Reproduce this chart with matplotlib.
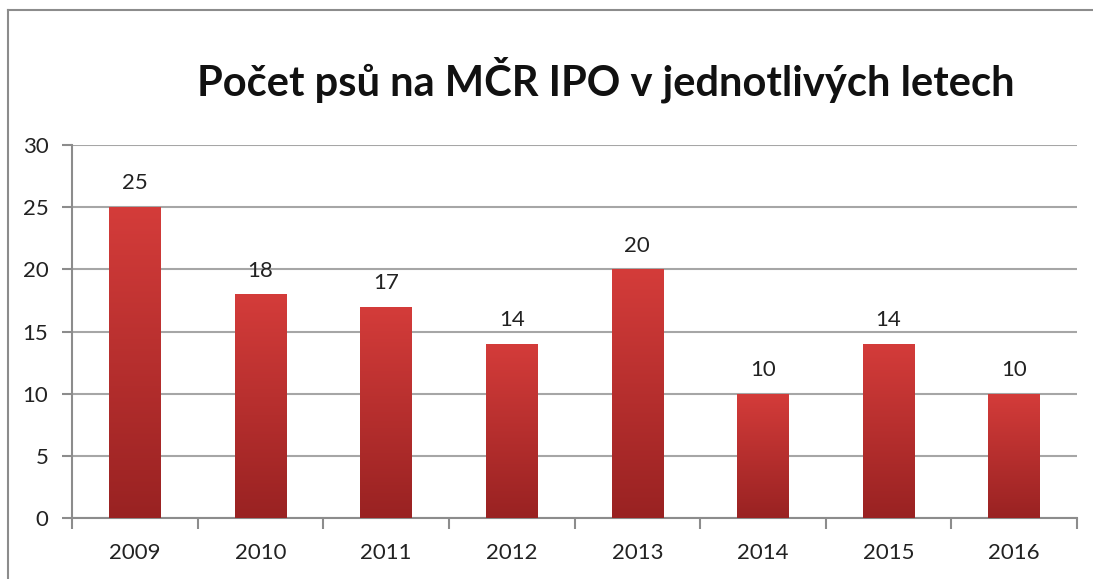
import matplotlib
matplotlib.use("Agg")
import matplotlib.pyplot as plt
import numpy as np
from matplotlib.colors import LinearSegmentedColormap
from matplotlib.lines import Line2D

years = ["2009", "2010", "2011", "2012", "2013", "2014", "2015", "2016"]
counts = [25, 18, 17, 14, 20, 10, 14, 10]
yticks = [0, 5, 10, 15, 20, 25, 30]
title = "Počet psů na MČR IPO v jednotlivých letech"

plt.rcParams['font.family'] = ['Lato', 'DejaVu Sans']

fig = plt.figure(figsize=(10.93, 5.79), dpi=100)
# outer chart frame (left and top edges visible)
fx, fy = 8/1093, 1 - 10/579
fig.add_artist(Line2D([fx, fx], [0, fy], transform=fig.transFigure, color='#8c8c8c', linewidth=1.5))
fig.add_artist(Line2D([fx, 1], [fy, fy], transform=fig.transFigure, color='#8c8c8c', linewidth=1.5))

ax = fig.add_axes([72/1093, 1 - 518/579, (1077-72)/1093, (518-145)/579])

x = np.arange(len(years))
bars = ax.bar(x, counts, width=0.41, color='#c03030', zorder=2)
cmap = LinearSegmentedColormap.from_list('g', ['#992222', '#d43c3a'])
grad = np.linspace(0, 1, 256).reshape(-1, 1)
for b in bars:
    im = ax.imshow(grad, cmap=cmap, origin='lower', aspect='auto',
                   extent=[b.get_x(), b.get_x() + b.get_width(), 0, b.get_height()], zorder=3)
    im.set_clip_path(b)
for xi, v in zip(x, counts):
    ax.text(xi, v + 1.1, str(v), ha='center', va='bottom', fontsize=16, color='#222222')

ax.set_xlim(-0.5, len(years) - 0.5)
ax.set_ylim(0, 30)
ax.set_yticks(yticks)
ax.set_yticklabels([str(t) for t in yticks], fontsize=16, color='#222222')
ax.set_xticks(x)
ax.set_xticklabels(years, fontsize=16, color='#222222')
ax.set_xticks(np.arange(len(years) + 1) - 0.5, minor=True)
ax.tick_params(axis='x', which='major', length=0, pad=18)
ax.tick_params(axis='x', which='minor', length=8, color='#8c8c8c', width=1.5)
ax.tick_params(axis='y', length=7, color='#8c8c8c', width=1.5, pad=10)
ax.grid(axis='y', color='#a6a6a6', linewidth=1.5, zorder=0)
ax.set_axisbelow(True)
for s in ['top', 'right']:
    ax.spines[s].set_visible(False)
for s in ['left', 'bottom']:
    ax.spines[s].set_color('#8c8c8c')
    ax.spines[s].set_linewidth(1.5)

fig.text(606/1093, 1 - 80/579, title, ha='center', va='center', fontsize=30, fontweight='bold', color='#111111')

fig.savefig("out.png", dpi=100)
